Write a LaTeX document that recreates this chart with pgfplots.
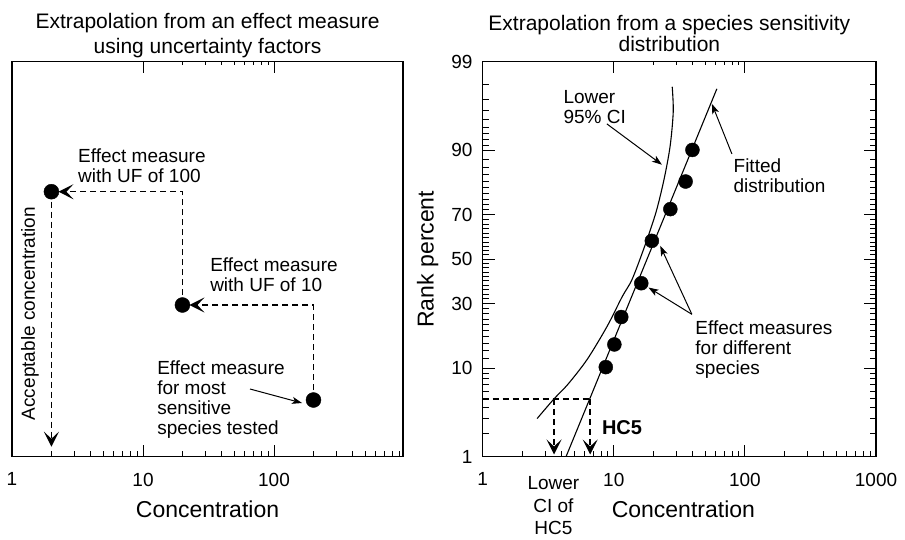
\documentclass[border=0pt]{standalone}
\usepackage{fontspec}
\setmainfont{Liberation Sans}
\usepackage{pgfplots}
\pgfplotsset{compat=1.18}
\usetikzlibrary{arrows.meta}

\newcommand\annot{\fontsize{19}{20}\selectfont}
\newcommand\labfont{\fontsize{23}{26}\selectfont}
\newcommand\titlefontA{\fontsize{21}{25}\selectfont}
\newcommand\titlefontB{\fontsize{21}{21}\selectfont}
\newcommand\hcfont{\fontsize{20}{20}\selectfont\bfseries}
\newcommand\cifont{\fontsize{19}{22.5}\selectfont}

\tikzset{
  guide/.style={line width=1.5pt, dash pattern=on 6pt off 4pt,
    -{Stealth[length=15pt,width=15pt,inset=7pt]}},
  pointer/.style={line width=1pt, -{Stealth[length=10pt,width=7pt,inset=2.5pt]}},
}

\begin{document}
\begin{tikzpicture}
\path (0pt,0pt) rectangle (905pt,-539pt);

% ---------- Extrapolation with uncertainty factors ----------
\begin{axis}[at={(12pt,-456.7pt)}, anchor=south west,
  scale only axis, width=391pt, height=395pt,
  xmode=log, xmin=1, xmax=965, ymin=0, ymax=395,
  axis line style={line width=1.2pt},
  major tick length=12pt, minor tick length=6pt, tick align=inside,
  tick style={line width=1pt, black},
  xtick pos=left, ytick=\empty,
  xtick={1,10,100}, xticklabels={1,10,100},
  minor xtick={2,3,4,5,6,7,8,9,20,30,40,50,60,70,80,90,200,300,400,500,600,700,800,900},
  ticklabel style={font=\annot},
  xticklabel style={anchor=north, inner sep=0pt, yshift=-16pt},
  xlabel={Concentration},
  xlabel style={font=\labfont, at={(axis description cs:0.5,0)}, anchor=north, inner sep=0pt, yshift=-44pt},
  clip=false]
  \addplot[guide, shorten >=7pt] coordinates {(200,56.7) (200,151.7) (20,151.7)};
  \addplot[guide, shorten >=7pt] coordinates {(20,151.7) (20,265) (2,265)};
  \addplot[guide] coordinates {(2,265) (2,10)};
  \addplot[only marks, mark=*, mark size=7.5pt, black] coordinates {(2,265) (20,151.7) (200,56.7)};
  \node[font=\titlefontA, align=center, anchor=south, inner sep=0pt] at (axis description cs:0.5,1.008)
    {Extrapolation from an effect measure\\using uncertainty factors};
  \node[font=\annot, anchor=north west, align=left, inner sep=0pt] at (axis cs:3.19,307.7) {Effect measure\\with UF of 100};
  \node[font=\annot, anchor=north west, align=left, inner sep=0pt] at (axis cs:32.5,198.7) {Effect measure\\with UF of 10};
  \node[font=\annot, anchor=north west, align=left, inner sep=0pt] at (axis cs:12.8,95.7) {Effect measure\\for most\\sensitive\\species tested};
  \draw[pointer] (axis cs:65.6,67.7) -- (axis cs:163.6,53.7);
  \node[font=\annot, rotate=90] at (axis cs:1.372,143.2) {Acceptable concentration};
\end{axis}
% major ticks along the top edge
\begin{axis}[at={(12pt,-456.7pt)}, anchor=south west,
  scale only axis, width=391pt, height=395pt,
  xmode=log, xmin=1, xmax=965, ymin=0, ymax=1,
  axis line style={line width=1.2pt},
  major tick length=11pt, tick align=inside, tick style={line width=1pt, black},
  xtick={10,100}, xticklabels={}, minor xtick={}, xtick pos=right, ytick=\empty]
\end{axis}

% ---------- Species sensitivity distribution (probit scale) ----------
\begin{axis}[at={(482.7pt,-456.7pt)}, anchor=south west,
  scale only axis, width=393.3pt, height=395pt,
  xmode=log, xmin=1, xmax=1000,
  ymin=-2.3263, ymax=2.3263,
  axis line style={line width=1.2pt},
  major tick length=12pt, minor tick length=6pt, tick align=inside,
  tick style={line width=1pt, black},
  xtick pos=left, ytick pos=both,
  xtick={1,10,100,1000}, xticklabels={1,10,100,1000},
  minor xtick={2,3,4,5,6,7,8,9,20,30,40,50,60,70,80,90,200,300,400,500,600,700,800,900},
  ytick={-2.3263,-1.2816,-0.5244,0,0.5244,1.2816,2.3263},
  yticklabels={1,10,30,50,70,90,99},
  minor ytick={-2.0537,-1.8808,-1.7507,-1.6449,-1.5548,-1.4758,-1.4051,-1.3408,
    -1.1750,-1.0803,-0.9945,-0.9154,-0.8416,-0.7722,-0.7063,-0.6433,-0.5828,
    -0.4677,-0.4125,-0.3585,-0.3055,-0.2533,-0.2019,-0.1510,-0.1004,-0.0502,
    0.0502,0.1004,0.1510,0.2019,0.2533,0.3055,0.3585,0.4125,0.4677,
    0.5828,0.6433,0.7063,0.7722,0.8416,0.9154,0.9945,1.0803,1.1750,
    1.3408,1.4051,1.4758,1.5548,1.6449,1.7507,1.8808,2.0537},
  ticklabel style={font=\annot},
  xticklabel style={anchor=north, inner sep=0pt, yshift=-16pt},
  yticklabel style={anchor=east, inner sep=0pt, xshift=-10pt},
  xlabel={Concentration},
  xlabel style={font=\labfont, at={(axis description cs:0.5,0)}, anchor=north, inner sep=0pt, yshift=-44pt, xshift=4pt},
  ylabel={Rank percent},
  ylabel style={font=\labfont, at={(axis description cs:-0.14,0.5)}, anchor=center},
  clip=false]
  % lower 95% confidence limit
  \addplot[smooth, line width=1.1pt] coordinates {
    (2.60,-1.877) (3.50,-1.645) (4.45,-1.476) (6.26,-1.181) (8.89,-0.791)
    (11.6,-0.440) (13.8,-0.236) (17.2,0.153) (21.0,0.555) (24.2,0.945)
    (26.9,1.334) (28.4,1.736) (27.9,2.031)};
  % fitted log-normal distribution
  \addplot[line width=1.1pt] coordinates {(4.32,-2.3263) (61.1,2.007)};
  % HC5 and its lower confidence limit
  \addplot[line width=1.5pt, dash pattern=on 6pt off 4pt] coordinates {(1,-1.6449) (6.6,-1.6449)};
  \addplot[guide] coordinates {(3.5,-1.6449) (3.5,-2.30)};
  \addplot[guide] coordinates {(6.6,-1.6449) (6.6,-2.30)};
  % effect measures for the species tested
  \addplot[only marks, mark=*, mark size=7pt, black] coordinates {
    (8.69,-1.271) (10.1,-1.004) (11.4,-0.681) (16.2,-0.283)
    (19.5,0.216) (27.0,0.590) (35.3,0.915) (39.8,1.287)};
  \node[font=\titlefontB, align=center, anchor=south, inner sep=0pt] at ([xshift=-10pt]axis description cs:0.5,1.025)
    {Extrapolation from a species sensitivity\\distribution};
  \node[font=\annot, anchor=north west, align=left, inner sep=0pt] at (axis cs:4.12,1.987) {Lower\\95\% CI};
  \draw[pointer] (axis cs:8.85,1.594) -- (axis cs:23.3,1.113);
  \node[font=\annot, anchor=north west, align=left, inner sep=0pt] at (axis cs:81.8,1.189) {Fitted\\distribution};
  \draw[pointer] (axis cs:79.6,1.240) -- (axis cs:56.0,1.830);
  \node[font=\annot, anchor=north west, align=left, inner sep=0pt] at (axis cs:41.8,-0.728) {Effect measures\\for different\\species};
  \draw[pointer] (axis cs:39.4,-0.649) -- (axis cs:22.6,0.157);
  \draw[pointer] (axis cs:39.4,-0.649) -- (axis cs:18.4,-0.334);
  \node[font=\hcfont, anchor=west, inner sep=0pt] at (axis cs:8.1,-1.983) {HC5};
  \node[font=\cifont, anchor=north, align=center, inner sep=0pt] at (axis cs:3.46,-2.56) {Lower\\CI of\\HC5};
\end{axis}
% major ticks along the top edge
\begin{axis}[at={(482.7pt,-456.7pt)}, anchor=south west,
  scale only axis, width=393.3pt, height=395pt,
  xmode=log, xmin=1, xmax=1000, ymin=0, ymax=1,
  axis line style={line width=1.2pt},
  major tick length=11pt, tick align=inside, tick style={line width=1pt, black},
  xtick={10,100}, xticklabels={}, minor xtick={}, xtick pos=right, ytick=\empty]
\end{axis}
\end{tikzpicture}
\end{document}
